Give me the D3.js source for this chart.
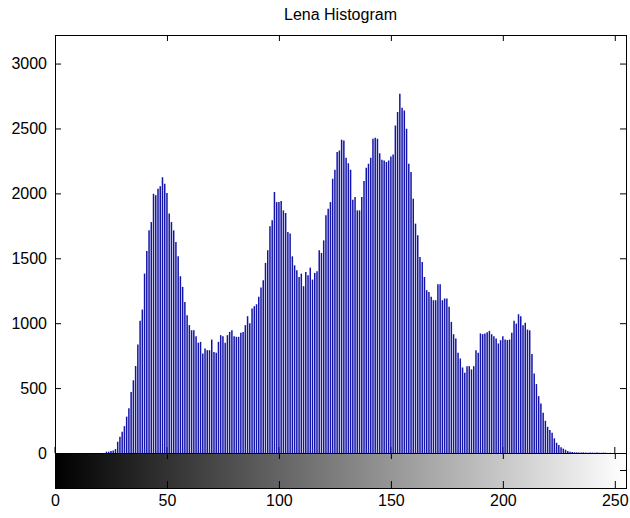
<!DOCTYPE html>
<html>
<head>
<meta charset="utf-8">
<script src="https://cdn.jsdelivr.net/npm/d3@7"></script>
<style>
  html, body { margin: 0; padding: 0; background: #ffffff; }
  svg { display: block; }
  text { font-family: "Liberation Sans", Arial, sans-serif; font-size: 16px; fill: #000; }
</style>
</head>
<body>
<svg id="chart" width="630" height="518"></svg>
<script>
// ---- data ----
const title = "Lena Histogram";
const xTicks = [0, 50, 100, 150, 200, 250];
const yTicks = [0, 500, 1000, 1500, 2000, 2500, 3000];
// pixel counts for gray levels 0..255
const counts = [
  0,0,0,0,0,0,0,0,0,0, 0,0,0,0,0,0,0,0,0,0,
  0,0,0,10,10,15,20,30,87,125,
  164,207,280,345,470,560,670,836,1018,1105,
  1382,1556,1715,1779,1998,1985,2036,2054,2125,2074,
  2002,1844,1779,1715,1625,1515,1362,1280,1164,1062,
  985,946,946,900,850,856,767,805,792,792,
  874,779,772,856,908,900,849,908,933,946,
  900,895,895,926,933,985,1054,1000,1113,1131,
  1146,1203,1274,1331,1464,1562,1746,1792,2010,1933,
  1933,1941,1869,1849,1703,1690,1515,1446,1408,1356,
  1382,1285,1395,1369,1428,1336,1387,1400,1562,1541,
  1638,1831,1882,1933,2113,2182,2318,2331,2413,2408,
  2274,2233,2182,1951,1972,1869,1869,1972,2095,2197,
  2228,2274,2421,2428,2421,2310,2259,2254,2241,2254,
  2285,2300,2523,2626,2767,2659,2638,2497,2228,2164,
  1959,1767,1677,1510,1472,1356,1254,1241,1203,1177,
  1177,1300,1300,1177,1190,1190,1126,1010,915,882,
  772,728,659,618,669,669,644,669,792,772,
  921,916,921,930,941,915,900,882,844,869,
  900,874,870,874,926,1018,997,1069,1054,985,
  1003,951,945,762,613,531,438,382,310,248,
  202,177,156,113,79,62,44,34,25,15,
  10,8,6,5,4,3,5,3,2,4,
  3,2,3,1,2,3,1,0,1,0,
  0,0,0,0,0,0
];
const levels = counts.map((c, i) => i);

// ---- layout ----
const svg = d3.select("#chart");
const axLeft = 55, axRight = 626, axTop = 35, zeroY = 453, barBottom = 488;

const x = d3.scaleLinear().domain([0, 255]).range([axLeft, axRight]);
const y = d3.scaleLinear().domain([0, 3220]).range([zeroY, axTop]);

// title
svg.append("text")
  .attr("x", (axLeft + axRight) / 2).attr("y", 20)
  .attr("text-anchor", "middle")
  .text(title);

// inner bottom ticks of histogram axes (under the stems)
svg.append("g").selectAll("line").data(xTicks).join("line")
  .attr("x1", d => x(d)).attr("x2", d => x(d))
  .attr("y1", zeroY).attr("y2", zeroY - 6)
  .attr("stroke", "#000").attr("stroke-width", 1);

// stems
svg.append("g").selectAll("line").data(levels.filter(i => counts[i] > 0)).join("line")
  .attr("x1", i => x(i)).attr("x2", i => x(i))
  .attr("y1", y(0)).attr("y2", i => y(counts[i]))
  .attr("stroke", "#1414a8").attr("stroke-width", 1.5);

// colorbar (gray ramp)
const defs = svg.append("defs");
const grad = defs.append("linearGradient").attr("id", "gray")
  .attr("gradientUnits", "userSpaceOnUse")
  .attr("x1", x(0)).attr("x2", x(255)).attr("y1", 0).attr("y2", 0);
grad.append("stop").attr("offset", "0%").attr("stop-color", "#000");
grad.append("stop").attr("offset", "100%").attr("stop-color", "#fff");
svg.append("rect").attr("x", axLeft).attr("y", zeroY)
  .attr("width", axRight - axLeft).attr("height", barBottom - zeroY)
  .attr("fill", "url(#gray)");

const fontStyle = g => g.selectAll("text")
  .style("font-family", "Liberation Sans, Arial, sans-serif").style("font-size", "16px");

// y axis left (ticks inward)
svg.append("g").attr("transform", `translate(${axLeft},0)`)
  .call(d3.axisLeft(y).tickValues(yTicks).tickFormat(d3.format("d")).tickSizeInner(-6).tickSizeOuter(0).tickPadding(8))
  .call(g => g.select(".domain").remove())
  .call(fontStyle);

// y axis right ticks
svg.append("g").attr("transform", `translate(${axRight},0)`)
  .call(d3.axisRight(y).tickValues(yTicks).tickFormat("").tickSizeInner(-6).tickSizeOuter(0))
  .call(g => g.select(".domain").remove());

// top x ticks
svg.append("g").attr("transform", `translate(0,${axTop})`)
  .call(d3.axisTop(x).tickValues(xTicks).tickFormat("").tickSizeInner(-6).tickSizeOuter(0))
  .call(g => g.select(".domain").remove());

// colorbar top ticks (pointing down)
svg.append("g").attr("transform", `translate(0,${zeroY})`)
  .call(d3.axisTop(x).tickValues(xTicks).tickFormat("").tickSizeInner(-6).tickSizeOuter(0))
  .call(g => g.select(".domain").remove());

// bottom x axis with labels
svg.append("g").attr("transform", `translate(0,${barBottom})`)
  .call(d3.axisBottom(x).tickValues(xTicks).tickFormat(d3.format("d")).tickSizeInner(-7).tickSizeOuter(0).tickPadding(7))
  .call(g => g.select(".domain").remove())
  .call(fontStyle);

// colorbar side ticks
const midBar = (zeroY + barBottom) / 2;
svg.append("line").attr("x1", axRight).attr("x2", axRight - 6).attr("y1", midBar).attr("y2", midBar).attr("stroke", "#000");
svg.append("line").attr("x1", axLeft).attr("x2", axLeft + 6).attr("y1", midBar).attr("y2", midBar).attr("stroke", "#000");

// boxes
svg.append("rect").attr("x", axLeft + 0.5).attr("y", axTop + 0.5)
  .attr("width", axRight - axLeft).attr("height", zeroY - axTop)
  .attr("fill", "none").attr("stroke", "#000").attr("stroke-width", 1);
svg.append("rect").attr("x", axLeft + 0.5).attr("y", zeroY + 0.5)
  .attr("width", axRight - axLeft).attr("height", barBottom - zeroY)
  .attr("fill", "none").attr("stroke", "#000").attr("stroke-width", 1);
</script>
</body>
</html>
